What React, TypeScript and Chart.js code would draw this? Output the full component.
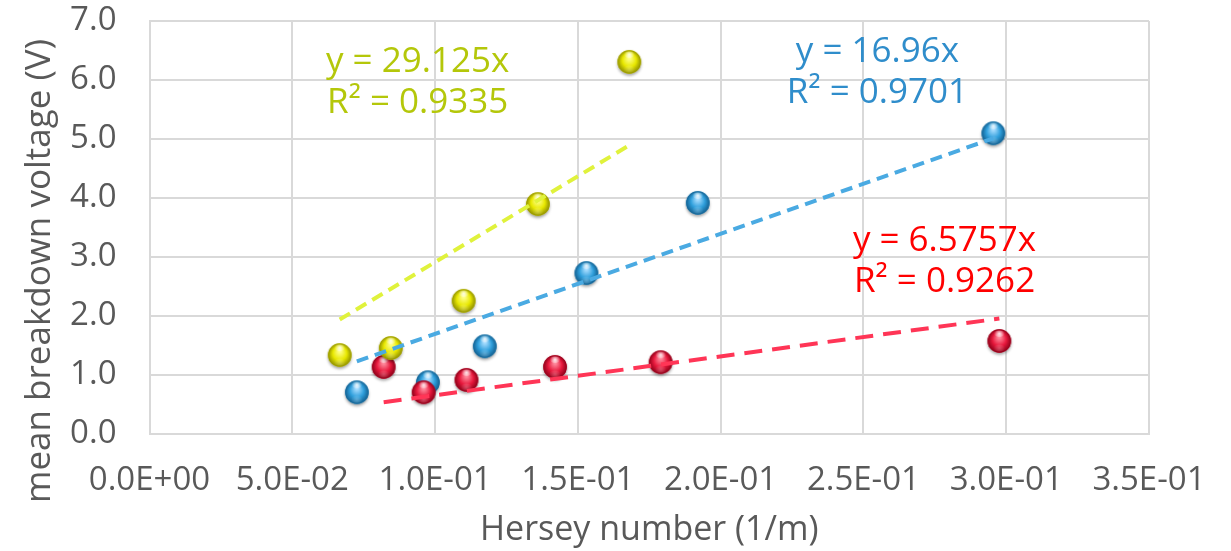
import React, { useEffect, useRef } from "react";
import { Chart, registerables } from "chart.js";

Chart.register(...registerables);

// Hersey number (1/m) and mean breakdown voltage (V) per series
const yellowX = [0.0666, 0.0845, 0.110, 0.136, 0.168];
const yellowY = [1.32, 1.44, 2.24, 3.88, 6.29];

const blueX = [0.0726, 0.0975, 0.1174, 0.153, 0.192, 0.2955];
const blueY = [0.69, 0.86, 1.47, 2.71, 3.90, 5.08];

const redX = [0.082, 0.096, 0.111, 0.142, 0.179, 0.2976];
const redY = [1.12, 0.69, 0.90, 1.12, 1.20, 1.56];

// Linear fits through the origin and their R²
const slopes = { yellow: 29.125, blue: 16.96, red: 6.5757 };
const rSquared = { yellow: 0.9335, blue: 0.9701, red: 0.9262 };

const xTicks = { min: 0, max: 0.35, step: 0.05 };
const yTicks = { min: 0, max: 7, step: 1 };

const FONT = "'Open Sans', 'DejaVu Sans', sans-serif";

function toPoints(xs: number[], ys: number[]) {
  return xs.map((x, i) => ({ x, y: ys[i] }));
}

function fitLine(xs: number[], slope: number) {
  const lo = Math.min(...xs);
  const hi = Math.max(...xs);
  return [
    { x: lo, y: slope * lo },
    { x: hi, y: slope * hi },
  ];
}

function sciLabel(v: number) {
  const [m, e] = Number(v).toExponential(1).split("e");
  const n = parseInt(e, 10);
  const sign = n < 0 ? "-" : "+";
  return `${m.toUpperCase()}E${sign}${String(Math.abs(n)).padStart(2, "0")}`;
}

// Shaded glossy ball used as the marker
function makeBall(light: string, base: string, dark: string) {
  const size = 32;
  const c = document.createElement("canvas");
  c.width = size;
  c.height = size;
  const ctx = c.getContext("2d")!;
  const cx = size / 2;
  const cy = size / 2 - 1;
  const r = 11.8;

  ctx.save();
  ctx.shadowColor = "rgba(0,0,0,0.35)";
  ctx.shadowBlur = 3;
  ctx.shadowOffsetY = 2;
  ctx.beginPath();
  ctx.arc(cx, cy, r, 0, Math.PI * 2);
  ctx.fillStyle = base;
  ctx.fill();
  ctx.restore();

  const g = ctx.createRadialGradient(cx, cy - r * 0.35, 1, cx, cy, r);
  g.addColorStop(0, light);
  g.addColorStop(0.55, base);
  g.addColorStop(1, dark);
  ctx.beginPath();
  ctx.arc(cx, cy, r, 0, Math.PI * 2);
  ctx.fillStyle = g;
  ctx.fill();

  // specular highlight near the top
  const h = ctx.createRadialGradient(cx, cy - r * 0.62, 0, cx, cy - r * 0.62, r * 0.45);
  h.addColorStop(0, "rgba(255,255,255,0.9)");
  h.addColorStop(1, "rgba(255,255,255,0)");
  ctx.beginPath();
  ctx.ellipse(cx, cy - r * 0.62, r * 0.45, r * 0.28, 0, 0, Math.PI * 2);
  ctx.fillStyle = h;
  ctx.fill();

  // soft reflection at the bottom
  const b = ctx.createRadialGradient(cx, cy + r * 0.6, 0, cx, cy + r * 0.6, r * 0.5);
  b.addColorStop(0, "rgba(255,255,255,0.25)");
  b.addColorStop(1, "rgba(255,255,255,0)");
  ctx.beginPath();
  ctx.ellipse(cx, cy + r * 0.6, r * 0.5, r * 0.3, 0, 0, Math.PI * 2);
  ctx.fillStyle = b;
  ctx.fill();
  return c;
}

type FitLabel = { x: number; y: number; color: string; lines: string[] };

const fitLabelPlugin = {
  id: "fitLabels",
  afterDatasetsDraw(chart: any, _args: any, opts: any) {
    const { ctx, scales } = chart;
    const items: FitLabel[] = opts.items || [];
    ctx.save();
    ctx.font = `35px ${FONT}`;
    ctx.textAlign = "center";
    ctx.textBaseline = "middle";
    items.forEach((it) => {
      const px = scales.x.getPixelForValue(it.x);
      const py = scales.y.getPixelForValue(it.y);
      ctx.fillStyle = it.color;
      it.lines.forEach((t, i) => ctx.fillText(t, px, py + i * 41));
    });
    ctx.restore();
  },
};

const yTitlePlugin = {
  id: "yTitle",
  afterDraw(chart: any, _args: any, opts: any) {
    const { ctx } = chart;
    ctx.save();
    ctx.translate(opts.x, opts.y);
    ctx.rotate(-Math.PI / 2);
    ctx.font = `35px ${FONT}`;
    ctx.fillStyle = "#595959";
    ctx.textAlign = "center";
    ctx.textBaseline = "middle";
    ctx.fillText(opts.text, 0, 0);
    ctx.restore();
  },
};

export default function App() {
  const ref = useRef<HTMLCanvasElement | null>(null);

  useEffect(() => {
    const canvas = ref.current;
    if (!canvas) return;
    document.body.style.margin = "0";

    const yellowBall = makeBall("#ffff8a", "#e8e800", "#8f8f00");
    const blueBall = makeBall("#a8ddff", "#2f9fdc", "#135f8f");
    const redBall = makeBall("#ff8c9e", "#e8193d", "#8c0018");

    const lineBase = {
      type: "scatter" as const,
      showLine: true,
      pointRadius: 0,
      borderWidth: 4,
      fill: false,
      order: -1,
    };

    const chart = new Chart(canvas, {
      type: "scatter",
      data: {
        datasets: [
          { label: "yellow", data: toPoints(yellowX, yellowY), pointStyle: yellowBall as any, pointRadius: 12, order: 1 },
          { label: "red", data: toPoints(redX, redY), pointStyle: redBall as any, pointRadius: 12, order: 1 },
          { label: "blue", data: toPoints(blueX, blueY), pointStyle: blueBall as any, pointRadius: 12, order: 1 },
          { ...lineBase, label: "yellow fit", data: fitLine(yellowX, slopes.yellow), borderColor: "#e0f23c", borderDash: [12, 7] },
          { ...lineBase, label: "blue fit", data: fitLine(blueX, slopes.blue), borderColor: "#4aaae2", borderDash: [12, 7] },
          { ...lineBase, label: "red fit", data: fitLine(redX, slopes.red), borderColor: "#ff3556", borderDash: [18, 10] },
        ] as any,
      },
      options: {
        animation: false,
        responsive: false,
        layout: { padding: { top: 21, right: 82, left: 0, bottom: 0 } },
        plugins: {
          legend: { display: false },
          tooltip: { enabled: false },
          fitLabels: {
            items: [
              { x: 0.0939, y: 6.3, color: "#b4c70a", lines: [`y = ${slopes.yellow}x`, `R² = ${rSquared.yellow.toFixed(4)}`] },
              { x: 0.2549, y: 6.48, color: "#2f8dcb", lines: [`y = ${slopes.blue}x`, `R² = ${rSquared.blue.toFixed(4)}`] },
              { x: 0.2784, y: 3.27, color: "#ff0000", lines: [`y = ${slopes.red}x`, `R² = ${rSquared.red.toFixed(4)}`] },
            ],
          },
          yTitle: { text: "mean breakdown voltage (V)", x: 40, y: 271 },
        } as any,
        scales: {
          x: {
            type: "linear",
            min: xTicks.min,
            max: xTicks.max,
            afterFit: (s: any) => {
              s.height = 117;
              s.paddingLeft = 0;
              s.paddingRight = 0;
            },
            ticks: {
              stepSize: xTicks.step,
              padding: 27,
              color: "#595959",
              font: { family: FONT, size: 33 },
              callback: (v: any) => sciLabel(Number(v)),
            },
            grid: { color: "#d9d9d9", lineWidth: 2, drawTicks: false },
            border: { color: "#d9d9d9", width: 2 },
            title: {
              display: true,
              text: "Hersey number (1/m)",
              color: "#595959",
              font: { family: FONT, size: 34 },
              padding: { top: 0, bottom: 0 },
            },
          },
          y: {
            type: "linear",
            min: yTicks.min,
            max: yTicks.max,
            afterFit: (s: any) => {
              s.width = 149.5;
              s.paddingTop = 0;
              s.paddingBottom = 0;
            },
            ticks: {
              stepSize: yTicks.step,
              padding: 33,
              color: "#595959",
              font: { family: FONT, size: 33 },
              callback: (v: any) => Number(v).toFixed(1),
            },
            grid: { color: "#d9d9d9", lineWidth: 2, drawTicks: false },
            border: { color: "#d9d9d9", width: 2 },
          },
        },
      },
      plugins: [fitLabelPlugin, yTitlePlugin],
    });

    return () => chart.destroy();
  }, []);

  return (
    <div style={{ position: "absolute", left: 0, top: 0, width: 1231, height: 551, background: "#fff" }}>
      <canvas ref={ref} width={1231} height={551} />
    </div>
  );
}
